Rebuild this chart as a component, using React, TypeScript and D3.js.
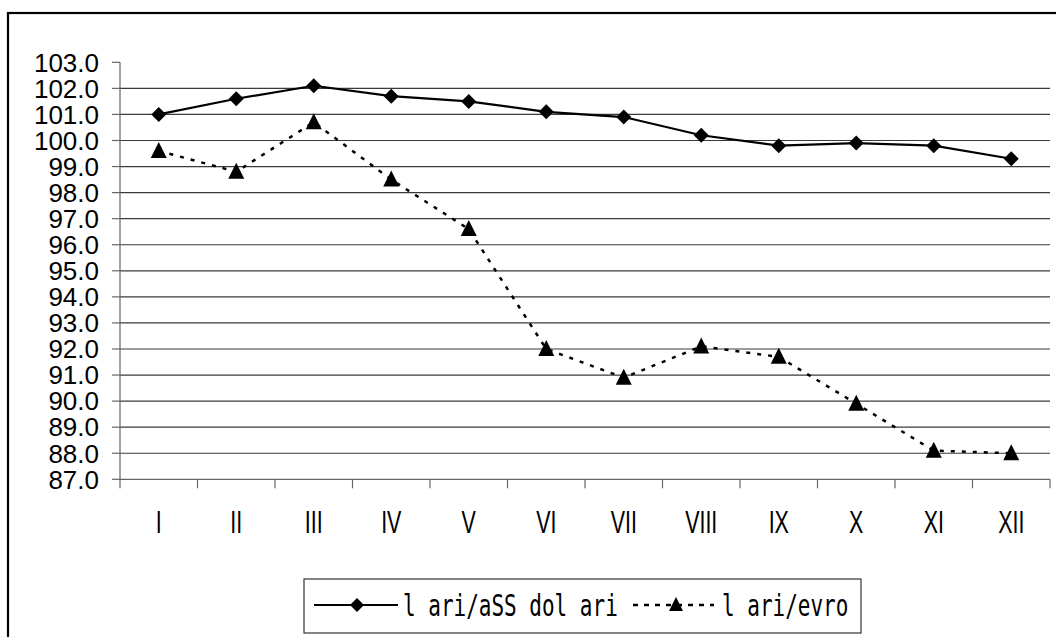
import React from "react";
import * as d3 from "d3";

const categories = ["I", "II", "III", "IV", "V", "VI", "VII", "VIII", "IX", "X", "XI", "XII"];
const usdValues = [101.0, 101.6, 102.1, 101.7, 101.5, 101.1, 100.9, 100.2, 99.8, 99.9, 99.8, 99.3];
const eurValues = [99.6, 98.8, 100.7, 98.5, 96.6, 92.0, 90.9, 92.1, 91.7, 89.9, 88.1, 88.0];
const yTicks = d3.range(87, 103.5, 1);
const seriesNames = ["l ari/aSS dol ari", "l ari/evro"];

const W = 1056;
const H = 637;
const plot = { left: 120, right: 1050, top: 62.3, bottom: 479.3 };

export default function App() {
  const x = d3.scaleBand<string>().domain(categories).range([plot.left, plot.right]).padding(0);
  const y = d3.scaleLinear().domain([87, 103]).range([plot.bottom, plot.top]);
  const cx = (c: string) => (x(c) as number) + x.bandwidth() / 2;

  const line = d3
    .line<number>()
    .x((_, i) => cx(categories[i]))
    .y((v) => y(v));

  const diamond = (px: number, py: number, r = 7.5) =>
    `M${px},${py - r}L${px + r},${py}L${px},${py + r}L${px - r},${py}Z`;
  const triangle = (px: number, py: number, w = 16, h = 16) =>
    `M${px},${py - h / 2}L${px + w / 2},${py + h / 2}L${px - w / 2},${py + h / 2}Z`;

  const bandEdges = categories.map((c) => x(c) as number).concat([plot.right]);
  const condensed = (tx: number, ty: number, sx: number) =>
    `translate(${tx},${ty}) scale(${sx},1)`;

  return (
    <svg
      width={W}
      height={H}
      style={{ position: "absolute", left: 0, top: 0, background: "#fff" }}
      xmlns="http://www.w3.org/2000/svg"
    >
      <rect x={0} y={0} width={W} height={H} fill="#fff" />
      {/* outer frame */}
      <rect x={8} y={13} width={W + 20} height={H + 20} fill="none" stroke="#000" strokeWidth={2.2} />

      {/* gridlines */}
      {yTicks
        .filter((t) => t !== 87 && t !== 103)
        .map((t) => (
          <line key={"g" + t} x1={plot.left} x2={plot.right} y1={y(t)} y2={y(t)} stroke="#3a3a3a" strokeWidth={1.2} />
        ))}

      {/* y axis */}
      <line x1={plot.left} x2={plot.left} y1={plot.top} y2={plot.bottom} stroke="#666" strokeWidth={1.2} />
      {yTicks.map((t) => (
        <g key={"yt" + t}>
          <line x1={plot.left - 8} x2={plot.left} y1={y(t)} y2={y(t)} stroke="#666" strokeWidth={1.2} />
          <text
            x={99}
            y={y(t) + 9.3}
            textAnchor="end"
            fontFamily="'Liberation Sans', Arial, sans-serif"
            fontSize={26}
            fill="#000"
          >
            {t.toFixed(1)}
          </text>
        </g>
      ))}

      {/* x axis */}
      <line x1={plot.left} x2={plot.right} y1={plot.bottom} y2={plot.bottom} stroke="#666" strokeWidth={1.2} />
      {bandEdges.map((e, i) => (
        <line key={"xt" + i} x1={e} x2={e} y1={plot.bottom} y2={plot.bottom + 9} stroke="#666" strokeWidth={1.2} />
      ))}
      {categories.map((c) => (
        <text
          key={"xl" + c}
          transform={condensed(cx(c), 533, 0.67)}
          textAnchor="middle"
          fontFamily="'Liberation Sans', Arial, sans-serif"
          fontSize={32}
          fill="#000"
        >
          {c}
        </text>
      ))}

      {/* series: USD */}
      <path d={line(usdValues) || ""} fill="none" stroke="#000" strokeWidth={2.2} />
      {usdValues.map((v, i) => (
        <path key={"d" + i} d={diamond(cx(categories[i]), y(v))} fill="#000" />
      ))}

      {/* series: EUR */}
      <path d={line(eurValues) || ""} fill="none" stroke="#000" strokeWidth={2.5} strokeDasharray="4,7" />
      {eurValues.map((v, i) => (
        <path key={"t" + i} d={triangle(cx(categories[i]), y(v) - 1)} fill="#000" />
      ))}

      {/* legend */}
      <rect x={304} y={579} width={557} height={54} fill="#fff" stroke="#333" strokeWidth={1.2} />
      <line x1={314} x2={398} y1={605} y2={605} stroke="#000" strokeWidth={2.2} />
      <path d={diamond(357, 605, 7)} fill="#000" />
      <text
        transform={condensed(403, 616, 0.7)}
        fontFamily="'DejaVu Sans Mono', monospace"
        fontSize={30}
        fill="#000"
        xmlSpace="preserve"
        style={{ whiteSpace: "pre" }}
      >
        {seriesNames[0]}
      </text>
      <line x1={633} x2={714} y1={605} y2={605} stroke="#000" strokeWidth={2.5} strokeDasharray="5,6" />
      <path d={triangle(676, 604, 14, 14)} fill="#000" />
      <text
        transform={condensed(722, 616, 0.7)}
        fontFamily="'DejaVu Sans Mono', monospace"
        fontSize={30}
        fill="#000"
        xmlSpace="preserve"
        style={{ whiteSpace: "pre" }}
      >
        {seriesNames[1]}
      </text>
    </svg>
  );
}
